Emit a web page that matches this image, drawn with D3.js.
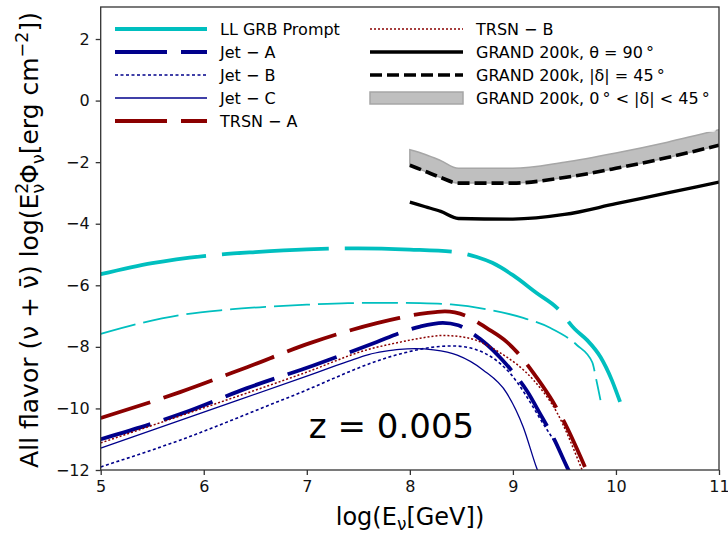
<!DOCTYPE html>
<html><head><meta charset="utf-8">
<script src="https://cdn.jsdelivr.net/npm/d3@7"></script>
<style>body{margin:0;background:#fff}svg{display:block}text{font-family:"DejaVu Sans",sans-serif}</style>
</head><body><svg id="c" width="728" height="535"></svg>
<script>
// ---- data ----
const xTicks = [5, 6, 7, 8, 9, 10, 11];
const yTicks = [-12, -10, -8, -6, -4, -2, 0, 2];

const grbPromptX = [5.0, 5.5, 6.0, 6.5, 7.0, 7.5, 8.0, 8.44, 8.65, 8.8, 9.0, 9.23, 9.43, 9.6, 9.72, 9.85, 9.96, 10.04];
const grbPromptY = [-5.64, -5.28, -5.05, -4.92, -4.83, -4.8, -4.84, -4.92, -5.08, -5.27, -5.67, -6.25, -6.74, -7.42, -7.78, -8.33, -9.08, -9.79];

const grbThinX = [5.0, 5.4, 5.8, 6.2, 6.6, 7.0, 7.4, 7.8, 8.1, 8.4, 8.78, 9.1, 9.36, 9.62, 9.77, 9.81, 9.85];
const grbThinY = [-7.58, -7.22, -6.95, -6.8, -6.7, -6.63, -6.58, -6.57, -6.58, -6.62, -6.8, -7.06, -7.38, -7.94, -8.5, -9.08, -9.73];

const jetAX = [5.0, 5.8, 6.42, 7.05, 7.68, 7.9, 8.1, 8.32, 8.47, 8.6, 8.75, 8.88, 9.0, 9.14, 9.27, 9.4, 9.53, 9.6];
const jetAY = [-11.0, -10.15, -9.34, -8.62, -7.84, -7.55, -7.34, -7.22, -7.3, -7.55, -7.93, -8.36, -8.82, -9.45, -10.21, -11.0, -11.94, -12.4];

const jetBX = [5.0, 5.77, 6.81, 7.94, 8.2, 8.42, 8.65, 8.97, 9.27, 9.53, 9.56];
const jetBY = [-11.9, -11.03, -9.66, -8.2, -8.02, -7.97, -8.1, -8.85, -10.37, -11.93, -12.2];

const jetCX = [5.0, 6.0, 7.0, 7.4, 7.6, 7.75, 7.9, 8.05, 8.23, 8.46, 8.71, 8.94, 9.1, 9.23, 9.26];
const jetCY = [-11.29, -10.12, -8.95, -8.47, -8.25, -8.15, -8.08, -8.06, -8.1, -8.27, -8.75, -9.5, -10.6, -11.93, -12.2];

const trsnAX = [5.0, 5.77, 6.42, 7.03, 7.68, 7.9, 8.1, 8.25, 8.34, 8.55, 8.75, 8.94, 9.04, 9.2, 9.36, 9.5, 9.66, 9.75];
const trsnAY = [-10.31, -9.47, -8.66, -7.88, -7.23, -7.06, -6.93, -6.87, -6.85, -7.0, -7.4, -7.84, -8.17, -8.85, -9.63, -10.45, -11.6, -12.3];

const trsnBX = [5.0, 6.0, 7.0, 7.58, 7.9, 8.1, 8.32, 8.55, 8.88, 9.2, 9.43, 9.66, 9.72];
const trsnBY = [-11.12, -9.98, -8.82, -8.1, -7.85, -7.72, -7.63, -7.7, -8.2, -9.08, -10.15, -11.9, -12.4];

const grandX = [8.0, 8.15, 8.3, 8.47, 9.0, 9.5, 10.0, 10.5, 11.0];
const grand90Y = [-3.3, -3.45, -3.6, -3.83, -3.85, -3.7, -3.35, -3.0, -2.65];
const grand45Y = [-2.1, -2.3, -2.5, -2.68, -2.68, -2.5, -2.2, -1.85, -1.45];
const grandBandTopY = [-1.6, -1.75, -1.95, -2.2, -2.2, -2.0, -1.7, -1.35, -0.95];

const legendLabels = ["LL GRB Prompt", "Jet \u2212 A", "Jet \u2212 B", "Jet \u2212 C", "TRSN \u2212 A",
  "TRSN \u2212 B", "GRAND 200k, \u03b8 = 90\u2009\u00b0", "GRAND 200k, |\u03b4| = 45\u2009\u00b0", "GRAND 200k, 0\u2009\u00b0 < |\u03b4| < 45\u2009\u00b0"];
const annotation = "z = 0.005";

// ---- layout ----
const L = 100.7, R = 719, T = 7, B = 470;
const x = d3.scaleLinear().domain([5, 11]).range([L, R]);
const y = d3.scaleLinear().domain([-12, 3.04]).range([B, T]);
const svg = d3.select("#c");

svg.append("clipPath").attr("id", "clip").append("rect")
  .attr("x", L).attr("y", T).attr("width", R - L).attr("height", B - T);
const plot = svg.append("g").attr("clip-path", "url(#clip)");

const cyan = "#00bfbf", navy = "#00008b", dred = "#8b0000";
const series = [
  {xs: grbPromptX, ys: grbPromptY, color: cyan, w: 3.8, dash: "107,16"},
  {xs: grbThinX, ys: grbThinY, color: cyan, w: 1.8, dash: "36,8"},
  {xs: jetAX, ys: jetAY, color: navy, w: 3.8, dash: "52,14"},
  {xs: jetBX, ys: jetBY, color: navy, w: 1.6, dash: "3,2.5"},
  {xs: jetCX, ys: jetCY, color: navy, w: 1.3, dash: null},
  {xs: trsnAX, ys: trsnAY, color: dred, w: 3.8, dash: "52,14"},
  {xs: trsnBX, ys: trsnBY, color: dred, w: 1.5, dash: "2,2"},
  {xs: grandX, ys: grand90Y, color: "#000", w: 3.3, dash: null},
  {xs: grandX, ys: grand45Y, color: "#000", w: 3.6, dash: "12,5"}
];

// band
const area = d3.area().x(d => x(d[0])).y0(d => y(d[1])).y1(d => y(d[2])).curve(d3.curveMonotoneX);
plot.append("path").datum(grandX.map((v, i) => [v, grand45Y[i], grandBandTopY[i]]))
  .attr("d", area).attr("fill", "#bfbfbf").attr("stroke", "#a6a6a6").attr("stroke-width", 1.5);

const line = d3.line().x(d => x(d[0])).y(d => y(d[1])).curve(d3.curveMonotoneX);
series.forEach(s => {
  plot.append("path").datum(s.xs.map((v, i) => [v, s.ys[i]]))
    .attr("d", line).attr("fill", "none").attr("stroke", s.color)
    .attr("stroke-width", s.w).attr("stroke-dasharray", s.dash);
});

// annotation
svg.append("text").attr("x", x(7.02)).attr("y", 438).attr("font-size", 34).text(annotation);

// axes
const xa = svg.append("g").attr("transform", `translate(0,${B})`)
  .call(d3.axisBottom(x).tickValues(xTicks).tickSize(5).tickPadding(6).tickFormat(d3.format("d")));
const ya = svg.append("g").attr("transform", `translate(${L},0)`)
  .call(d3.axisLeft(y).tickValues(yTicks).tickSize(5).tickPadding(6).tickFormat(d3.format("d")));
[xa, ya].forEach(a => {
  a.select(".domain").remove();
  a.selectAll("line").attr("stroke", "#333").attr("stroke-width", 1.3);
  a.selectAll("text").attr("font-size", 16).attr("fill", "#111").attr("font-family", "DejaVu Sans");
});
svg.append("rect").attr("x", L).attr("y", T).attr("width", R - L).attr("height", B - T)
  .attr("fill", "none").attr("stroke", "#333").attr("stroke-width", 1.3);

// legend
const lg = svg.append("g");
lg.append("rect").attr("x", 104).attr("y", 10).attr("width", 612).attr("height", 122).attr("rx", 3)
  .attr("fill", "#fff").attr("fill-opacity", 0.8).attr("stroke", "none");
const legendItems = [
  {s: series[0]}, {s: series[2]}, {s: series[3]}, {s: series[4]}, {s: series[5]},
  {s: series[6]}, {s: series[7]}, {s: series[8]}, {band: true}
];
legendItems.forEach((it, i) => {
  const col = i < 5 ? 0 : 1, row = i < 5 ? i : i - 5;
  const x0 = col === 0 ? 115 : 370, x1 = col === 0 ? 207 : 463, tx = col === 0 ? 220 : 476;
  const cy = 29 + row * 23;
  if (it.band) {
    lg.append("rect").attr("x", x0).attr("y", cy - 6).attr("width", x1 - x0).attr("height", 12)
      .attr("fill", "#bfbfbf").attr("stroke", "#a6a6a6").attr("stroke-width", 1.5);
  } else {
    lg.append("line").attr("x1", x0).attr("x2", x1).attr("y1", cy).attr("y2", cy)
      .attr("stroke", it.s.color).attr("stroke-width", it.s.w).attr("stroke-dasharray", it.s.dash);
  }
  lg.append("text").attr("x", tx).attr("y", cy + 6).attr("font-size", 16).text(legendLabels[i]);
});

// x label
const xl = svg.append("text").attr("x", 410).attr("y", 525).attr("text-anchor", "middle").attr("font-size", 24);
xl.append("tspan").text("log(E");
xl.append("tspan").attr("font-size", 17).attr("dy", 5).text("\u03bd");
xl.append("tspan").attr("dy", -5).text("[GeV])");

// y label
const yl = svg.append("text").attr("transform", "translate(38,240) rotate(-90)")
  .attr("text-anchor", "middle").attr("font-size", 25);
yl.append("tspan").text("All flavor (\u03bd + \u03bd\u0304) log(E");
yl.append("tspan").attr("font-size", 17.5).attr("dy", -10).text("2");
yl.append("tspan").attr("font-size", 17.5).attr("dx", -11).attr("dy", 16).text("\u03bd");
yl.append("tspan").attr("dy", -6).text("\u03a6");
yl.append("tspan").attr("font-size", 17.5).attr("dy", 6).text("\u03bd");
yl.append("tspan").attr("dy", -6).text("[erg cm");
yl.append("tspan").attr("font-size", 17.5).attr("dy", -10).text("\u22122");
yl.append("tspan").attr("dy", 10).text("])");
</script></body></html>
